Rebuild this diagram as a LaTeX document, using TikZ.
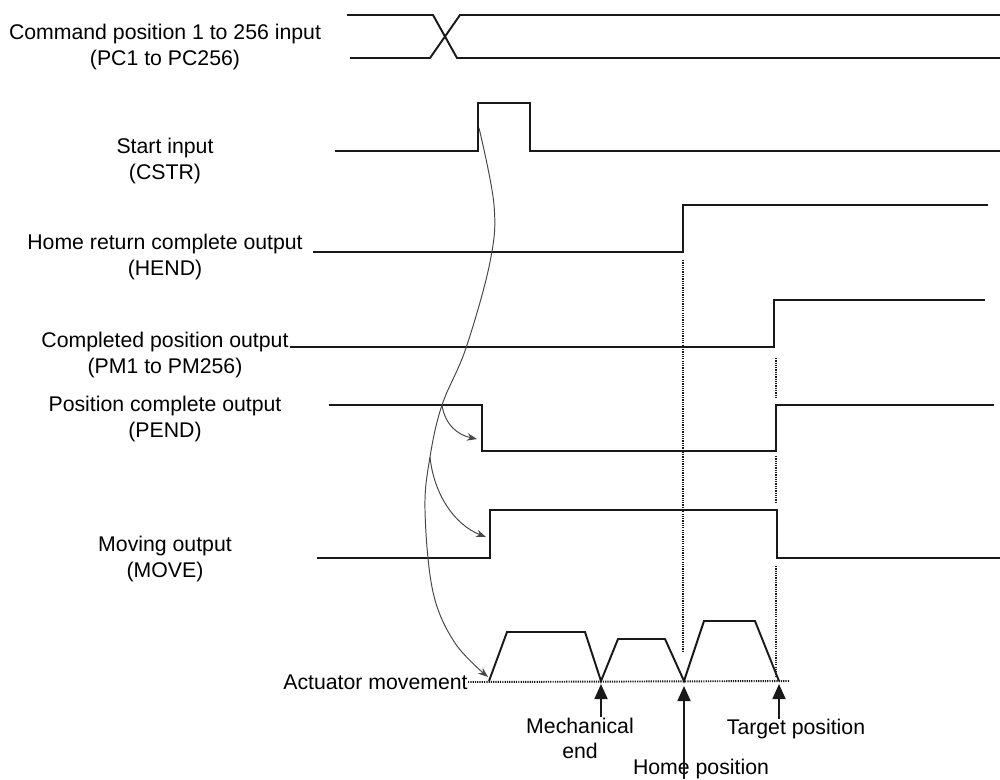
\documentclass[tikz,border=0pt]{standalone}
\usepackage{fontspec}
\setmainfont{Liberation Sans}
\usetikzlibrary{arrows.meta,positioning,calc}
\definecolor{sigblack} {RGB}{25,25,25}
\definecolor{cuegray}  {RGB}{70,70,70}

\begin{document}
\begin{tikzpicture}[
  x=0.02cm,y=-0.02cm,
  >=Stealth,
  sig/.style    ={line width=1.1pt,sigblack},
  lbl/.style    ={font=\fontsize{12.1}{14.3}\selectfont,align=center,inner sep=0pt},
  cue/.style    ={-{Stealth[length=0.2cm,width=0.15cm]},cuegray,line width=0.55pt},
  pointer/.style={-{Triangle[length=0.3cm,width=0.26cm]},line width=1pt,sigblack},
  guide/.style  ={dash pattern=on 0.7pt off 0.6pt,line width=1.5pt,sigblack},
  base/.style   ={dash pattern=on 0.7pt off 0.6pt,line width=1.1pt,sigblack},
]
\useasboundingbox (0,0) rectangle (1000,779);

%% ── Signal names ─────────────────────────────────────────────────────────────
\node[lbl] (pclbl)   at (165,47)  {Command position 1 to 256 input\\(PC1 to PC256)};
\node[lbl] (cstrlbl) at (165,161) {Start input\\(CSTR)};
\node[lbl] (hendlbl) at (165,257) {Home return complete output\\(HEND)};
\node[lbl] (pmlbl)   at (165,355) {Completed position output\\(PM1 to PM256)};
\node[lbl] (pendlbl) at (165,419) {Position complete output\\(PEND)};
\node[lbl] (movelbl) at (165,559) {Moving output\\(MOVE)};
\node[lbl,anchor=east] (actlbl) at (468,682) {Actuator movement};

%% ── Event points ─────────────────────────────────────────────────────────────
\coordinate (mech)    at (601,681);
\coordinate (home)    at (684,681);
\coordinate (tgt)     at (779,681);
\coordinate (cstrup)  at (479,128);
\coordinate (pendtap) at (442,405);
\coordinate (movetap) at (430,457);
\coordinate (pendhit) at (477,439);
\coordinate (movehit) at (486,537);
\coordinate (acthit)  at (488,677);

%% ── Waveforms ────────────────────────────────────────────────────────────────
\draw[sig] (347,15) -- (433,15) -- (457,58) -- (1000,58);
\draw[sig] (350,58) -- (430,58) -- (460,15) -- (1000,15);
\draw[sig] (335,151) -| (478,103) -| (530,151) -- (1000,151);
\draw[sig] (313,252) -| (683,205) -- (988,205);
\draw[sig] (290,347) -| (774,300) -- (985,300);
\draw[sig] (329,405) -| (482,451) -| (776,405) -- (994,405);
\draw[sig] (317,558) -| (490,510) -| (777,558) -- (1000,558);

%% ── Actuator movement ────────────────────────────────────────────────────────
\draw[base] (actlbl.east) -- (790,681);
\draw[sig] (489,681) -- (507,632) -- (585,632) -- (mech) -- (618,639) -- (665,639)
  -- (home) -- (704,621) -- (755,621) -- (tgt);

%% ── Timing guides
\draw[guide] (683,260) -- (683,652);
\draw[guide] (776,358) -- (776,397);
\draw[guide] (776,456) -- (776,502);
\draw[guide] (776,566) -- (776,676);

%% ── Start input triggers
\draw[cue] plot[smooth,tension=0.6] coordinates {(cstrup) (494,205) (490,262)
  (466,348) (pendtap) (movetap) (425,510) (433,592) (455,643) (acthit)};
\draw[cue] (pendtap) .. controls (445,425) and (458,435) .. (pendhit);
\draw[cue] (movetap) .. controls (434,495) and (455,525) .. (movehit);

%% ── Positions on the stroke
\node[lbl] (mechlbl) at (580,738) {Mechanical\\end};
\node[lbl] (homelbl) at (701,769) {Home position};
\node[lbl] (tgtlbl)  at (796,729) {Target position};
\draw[pointer] (mechlbl.north -| mech) -- ([yshift=-0.06cm]mech);
\draw[pointer] (homelbl.south -| home) -- ([yshift=-0.1cm]home);
\draw[pointer] (tgtlbl.north -| tgt) -- ([yshift=-0.06cm]tgt);

\end{tikzpicture}
\end{document}
